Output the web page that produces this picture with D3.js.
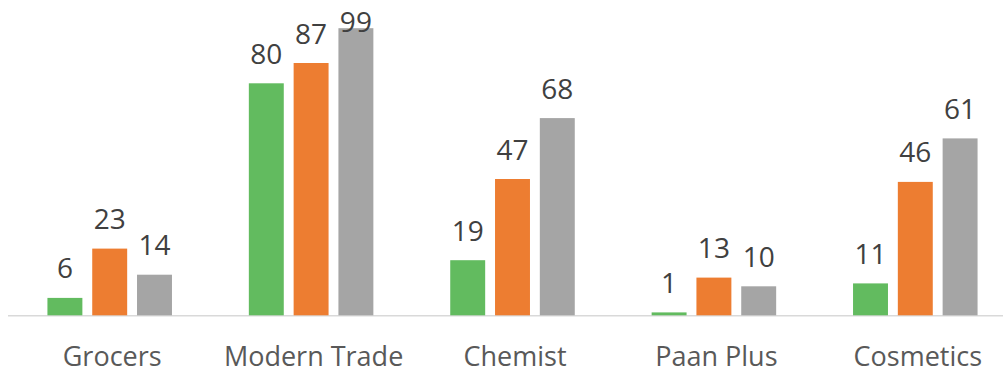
<!DOCTYPE html>
<html>
<head>
<meta charset="utf-8">
<script src="https://cdn.jsdelivr.net/npm/d3@7"></script>
<style>
  html, body { margin: 0; padding: 0; background: #fff; }
  svg { display: block; }
</style>
</head>
<body>
<svg id="chart" width="1003" height="373"></svg>
<script>
// Channel shares by outlet type, three series per channel
const categories = ["Grocers", "Modern Trade", "Chemist", "Paan Plus", "Cosmetics"];
const seriesNames = ["Series 1", "Series 2", "Series 3"];
const series1 = [6, 80, 19, 1, 11];
const series2 = [23, 87, 47, 13, 46];
const series3 = [14, 99, 68, 10, 61];
const colors = ["#62BB5F", "#ED7D31", "#A5A5A5"];

const allSeries = [series1, series2, series3];
const rows = categories.map((c, i) => ({
  category: c,
  values: allSeries.map((s, k) => ({ key: seriesNames[k], value: s[i], k }))
}));

const svg = d3.select("#chart");
const W = 1003, H = 373;

const x0 = d3.scaleBand().domain(categories).range([9, 1016]).padding(0);
const x1 = d3.scaleBand().domain(seriesNames).range([0, x0.bandwidth()])
  .paddingInner(0.22).paddingOuter(0.858);
const y = d3.scaleLinear().domain([0, 100]).range([315.3, 25.3]);

// Category axis baseline
svg.append("line")
  .attr("x1", 8).attr("x2", W)
  .attr("y1", y(0) + 0.5).attr("y2", y(0) + 0.5)
  .attr("stroke", "#D9D9D9").attr("stroke-width", 1.5);

const groups = svg.selectAll("g.group").data(rows).enter().append("g")
  .attr("class", "group")
  .attr("transform", d => `translate(${x0(d.category)},0)`);

groups.selectAll("rect").data(d => d.values).enter().append("rect")
  .attr("x", d => x1(d.key))
  .attr("width", x1.bandwidth())
  .attr("y", d => y(d.value))
  .attr("height", d => y(0) - y(d.value))
  .attr("fill", d => colors[d.k]);

// Value labels sit above each bar, kept inside the top of the chart area
groups.selectAll("text.val").data(d => d.values).enter().append("text")
  .attr("class", "val")
  .attr("x", d => x1(d.key) + x1.bandwidth() / 2)
  .attr("y", d => Math.max(y(d.value) - 19.5, 31.5))
  .attr("text-anchor", "middle")
  .attr("font-family", "Open Sans, sans-serif")
  .attr("font-size", 28)
  .attr("fill", "#404040")
  .text(d => d.value);

// Category labels
svg.selectAll("text.cat").data(categories).enter().append("text")
  .attr("class", "cat")
  .attr("x", d => x0(d) + x0.bandwidth() / 2 + 2.5)
  .attr("y", 366)
  .attr("text-anchor", "middle")
  .attr("font-family", "Open Sans, sans-serif")
  .attr("font-size", 27)
  .attr("fill", "#595959")
  .text(d => d);
</script>
</body>
</html>
